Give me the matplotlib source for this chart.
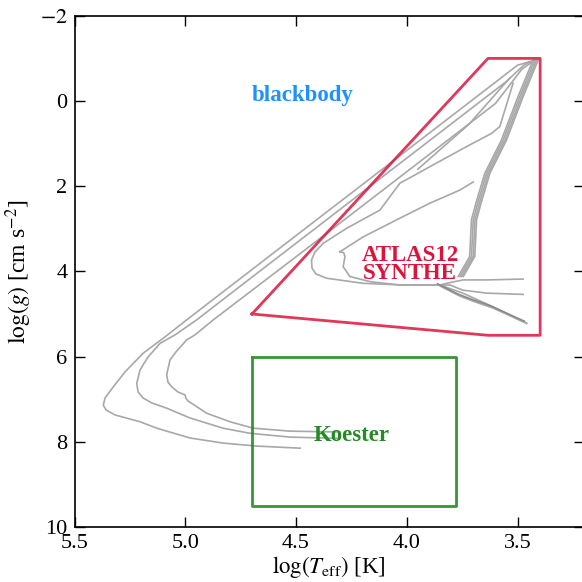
import numpy as np
import matplotlib
matplotlib.use("Agg")
import matplotlib.pyplot as plt

plt.rcParams['font.family'] = ['Liberation Serif', 'DejaVu Serif']
plt.rcParams['mathtext.fontset'] = 'stix'

# ---- data (log Teff, log g) ----
rgb_T = [3.76, 3.708, 3.70, 3.68, 3.64, 3.565, 3.49, 3.422]
rgb_g = [4.12, 3.65, 2.79, 2.40, 1.70, 0.92, -0.10, -0.96]

pagbA_T = [3.422, 3.50, 3.80, 4.20, 4.60, 4.994, 5.092, 5.19, 5.272, 5.325, 5.362, 5.37,
           5.358, 5.317, 5.204, 5.129, 4.979, 4.83, 4.678, 4.481]
pagbA_g = [-0.96, -0.84, 0.36, 1.96, 3.56, 5.14, 5.54, 5.92, 6.36, 6.71, 6.97, 7.14,
           7.25, 7.37, 7.53, 7.68, 7.91, 8.03, 8.10, 8.15]

pagbB_T = [3.422, 3.47, 3.55, 3.90, 4.30, 4.70, 4.949, 5.046, 5.114, 5.168, 5.204, 5.219,
           5.213, 5.191, 5.150, 5.084, 4.979, 4.83, 4.708, 4.527, 4.302]
pagbB_g = [-0.96, -0.85, -0.46, 0.94, 2.54, 4.14, 5.14, 5.49, 5.69, 6.01, 6.31, 6.63,
           6.83, 6.97, 7.09, 7.21, 7.44, 7.68, 7.80, 7.89, 7.92]

pagbC_T = [3.422, 3.48, 3.60, 4.00, 4.40, 4.874, 4.956, 4.994, 5.042, 5.069, 5.084, 5.078,
           5.061, 5.033, 5.001, 4.997, 4.988, 4.903, 4.798, 4.693, 4.527, 4.302]
pagbC_g = [-0.96, -0.75, 0.06, 1.66, 3.26, 5.14, 5.49, 5.61, 5.89, 6.08, 6.43, 6.60,
           6.71, 6.83, 6.90, 6.98, 7.04, 7.33, 7.53, 7.68, 7.75, 7.77]

loopE_T = [3.459, 3.611, 3.747, 3.851, 4.016, 4.197, 4.362, 4.410, 4.428, 4.430, 4.415,
           4.377, 4.272, 4.121, 4.031, 3.881, 3.730, 3.617, 3.580, 3.520]
loopE_g = [5.22, 4.83, 4.51, 4.32, 4.32, 4.28, 4.16, 4.06, 3.92, 3.73, 3.55,
           3.34, 2.99, 2.56, 1.93, 1.50, 1.07, 0.76, 0.60, -0.42]

loopF_T = [4.302, 4.285, 4.279, 4.287, 4.257, 4.166, 4.031, 3.851]
loopF_g = [3.54, 3.56, 3.65, 3.89, 4.12, 4.24, 4.32, 4.32]
branchF_T = [4.302, 4.197, 4.046, 3.896, 3.760, 3.70]
branchF_g = [3.54, 3.19, 2.79, 2.40, 2.09, 1.90]

lowA_T = [3.851, 3.820, 3.746, 3.640, 3.475]
lowA_g = [4.32, 4.28, 4.20, 4.20, 4.18]
lowB_T = [3.851, 3.805, 3.747, 3.640, 3.475]
lowB_g = [4.32, 4.32, 4.44, 4.51, 4.54]
lowC_T = [3.851, 3.760, 3.700, 3.611, 3.459]
lowC_g = [4.34, 4.58, 4.70, 4.86, 5.22]

extra_T = [3.95, 3.72, 3.535]
extra_g = [1.60, 0.55, -0.54]

# regions
T_2500 = np.log10(2500.0)
T_4300 = np.log10(4300.0)
T_50k = np.log10(50000.0)
T_6000 = np.log10(6000.0)
atlas_T = [T_50k, T_4300, T_2500, T_2500, T_4300, T_50k]
atlas_g = [5.0, 5.5, 5.5, -1.0, -1.0, 5.0]
koester_T = [T_50k, T_6000, T_6000, T_50k, T_50k]
koester_g = [6.0, 6.0, 9.5, 9.5, 6.0]

fig = plt.figure(figsize=(5.82, 5.82), dpi=100)
ax = fig.add_axes([74.5/582, 55/582, (584-74.5)/582, (527-15.8)/582])

gray = dict(color='#a8a8a8', lw=1.2, zorder=2, solid_joinstyle='round')
for dT in (0.0, -0.008, 0.008, -0.015):
    ax.plot(np.array(rgb_T) + dT, rgb_g, **gray)
for T, g in [(pagbA_T, pagbA_g), (pagbB_T, pagbB_g), (pagbC_T, pagbC_g),
             (loopE_T, loopE_g), (loopF_T, loopF_g), (branchF_T, branchF_g),
             (lowA_T, lowA_g), (lowB_T, lowB_g), (lowC_T, lowC_g), (extra_T, extra_g)]:
    ax.plot(T, g, **gray)
ax.plot(np.array(lowC_T) + 0.01, np.array(lowC_g) - 0.05, color='#8a8a8a', lw=1.2, zorder=2)

ax.plot(atlas_T, atlas_g, color='crimson', lw=2.0, alpha=0.85, zorder=3)
ax.plot(koester_T, koester_g, color='forestgreen', lw=2.0, alpha=0.9, zorder=3)

ax.text(4.469, -0.14, 'blackbody', color='dodgerblue', fontsize=16.5, fontweight='bold',
        ha='center', va='center', zorder=5)
ax.text(3.985, 3.84, 'ATLAS12\nSYNTHE', color='crimson', fontsize=16.5, fontweight='bold',
        ha='center', va='center', linespacing=0.85, zorder=5)
ax.text(4.248, 7.86, 'Koester', color='forestgreen', fontsize=16.5, fontweight='bold',
        ha='center', va='center', zorder=5)

ax.set_xlim(5.5, 3.2)
ax.set_ylim(10, -2)
ax.set_xticks([5.5, 5.0, 4.5, 4.0, 3.5])
ax.set_yticks([-2, 0, 2, 4, 6, 8, 10])
ax.set_yticklabels(['$-2$', '0', '2', '4', '6', '8', '10'])
ax.tick_params(direction='in', length=7, width=1.0, labelsize=16, top=True, right=True, pad=5)
for s in ax.spines.values():
    s.set_linewidth(1.2)
ax.set_xlabel(r'$\log(T_{\rm eff})$ [K]', fontsize=16.5, labelpad=1)
ax.set_ylabel(r'$\log(g)$ [cm s$^{-2}$]', fontsize=17, labelpad=4)

fig.savefig('out.png', dpi=100)
